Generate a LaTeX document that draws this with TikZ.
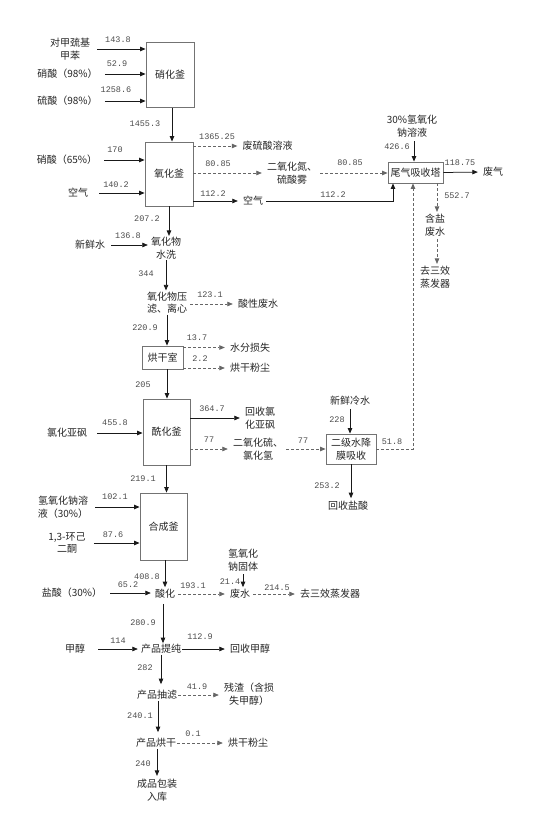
\documentclass[tikz,border=0pt]{standalone}
\usepackage{fontspec}
\newfontfamily\cjk{Noto Sans CJK SC}
\newfontfamily\numf{Liberation Mono}
\usetikzlibrary{arrows.meta,calc}
\begin{document}
\begin{tikzpicture}[x=1pt,y=-1pt,
 box/.style={draw=black!55, line width=0.9pt, fill=white, inner sep=0pt, align=center, font=\cjk\fontsize{10}{12.5}\selectfont, text=black!85},
 txt/.style={font=\cjk\fontsize{10}{12.5}\selectfont, align=center, inner sep=1pt, text=black!85},
 num/.style={font=\numf\fontsize{8.5}{10}\selectfont, inner sep=0pt, text=black!70},
 arr/.style={draw=black!90, line width=0.75pt, -{Triangle[length=5.5pt,width=4.5pt]}},
 darr/.style={arr, draw=black!60, dash pattern=on 3pt off 2pt}]
\useasboundingbox[fill=white] (0,0) rectangle (533,813);

% ---------- boxes ----------
\node[box, minimum width=48pt, minimum height=64.6pt] (nitro) at (170,75) {硝化釜};
\node[box, minimum width=48pt, minimum height=64pt] (oxid) at (169,174) {氧化釜};
\node[box, minimum width=55pt, minimum height=21pt] (tail) at (415.5,172.5) {尾气吸收塔};
\node[box, minimum width=41pt, minimum height=23pt] (dry) at (162.5,357.5) {烘干室};
\node[box, minimum width=47pt, minimum height=66pt] (acyl) at (166.5,432) {酰化釜};
\node[box, minimum width=50pt, minimum height=30pt] (film) at (351,449) {二级水降\\膜吸收};
\node[box, minimum width=47pt, minimum height=67pt] (synth) at (163.5,526.5) {合成釜};

% ---------- texts ----------
\node[txt] (tin1) at (70,49) {对甲巯基\\甲苯};
\node[txt] (tin2) at (67.5,74) {硝酸（98\%）};
\node[txt] (tin3) at (67.5,101) {硫酸（98\%）};
\node[txt] (tin4) at (67,160) {硝酸（65\%）};
\node[txt] (tin5) at (78,193) {空气};
\node[txt] (owaste) at (267.5,146) {废硫酸溶液};
\node[txt] (ono2) at (292,173) {二氧化氮、\\硫酸雾};
\node[txt] (oair) at (253,201) {空气};
\node[txt] (naoh) at (412,126) {30\%氢氧化\\钠溶液};
\node[txt] (exh) at (493,172) {废气};
\node[txt] (salt) at (435,225) {含盐\\废水};
\node[txt] (evapa) at (435,277) {去三效\\蒸发器};
\node[txt] (wash) at (166,248) {氧化物\\水洗};
\node[txt] (water) at (90,245) {新鲜水};
\node[txt] (filter) at (167,302.5) {氧化物压\\滤、离心};
\node[txt] (acidw) at (258,304) {酸性废水};
\node[txt] (loss) at (250,347.5) {水分损失};
\node[txt] (dusta) at (250,368) {烘干粉尘};
\node[txt] (socl) at (67,433) {氯化亚砜};
\node[txt] (rsocl) at (260,418) {回收氯\\化亚砜};
\node[txt] (so2) at (258,449) {二氧化硫、\\氯化氢};
\node[txt] (cold) at (350,401) {新鲜冷水};
\node[txt] (hcl) at (348,506) {回收盐酸};
\node[txt] (naohs) at (63,507) {氢氧化钠溶\\液（30\%）};
\node[txt] (chd) at (67,543) {1,3-环己\\二酮};
\node[txt] (hclin) at (72,593) {盐酸（30\%）};
\node[txt] (acid) at (165,594) {酸化};
\node[txt] (naohsol) at (243,560) {氢氧化\\钠固体};
\node[txt] (ww) at (240,594) {废水};
\node[txt] (evapb) at (330,594) {去三效蒸发器};
\node[txt] (meoh) at (75,649) {甲醇};
\node[txt] (purify) at (161,649) {产品提纯};
\node[txt] (rmeoh) at (250,649) {回收甲醇};
\node[txt] (filtb) at (157,695) {产品抽滤};
\node[txt] (resid) at (249,694) {残渣（含损\\失甲醇）};
\node[txt] (dryb) at (156,743) {产品烘干};
\node[txt] (dustb) at (248,743) {烘干粉尘};
\node[txt] (final) at (157,790) {成品包装\\入库};

% ---------- input arrows ----------
\draw[arr] ([xshift=6pt]tin1.east) -- (tin1.east -| nitro.west);
\draw[arr] ([xshift=6pt]tin2.east) -- (tin2.east -| nitro.west);
\draw[arr] ([xshift=6pt]tin3.east) -- (tin3.east -| nitro.west);
\draw[arr] ([xshift=6pt]tin4.east) -- (tin4.east -| oxid.west);
\draw[arr] ([xshift=10pt]tin5.east) -- (tin5.east -| oxid.west);
\draw[arr] ([xshift=5pt]water.east) -- ([xshift=-2pt]water.east -| wash.west);
\draw[arr] ([xshift=9pt]socl.east) -- (socl.east -| acyl.west);
\draw[arr] ([xshift=6pt]naohs.east) -- (naohs.east -| synth.west);
\draw[arr] ([xshift=7pt]chd.east) -- (chd.east -| synth.west);
\draw[arr] ([xshift=7pt]hclin.east) -- ([xshift=-3pt]hclin.east -| acid.west);
\draw[arr] ([xshift=12pt]meoh.east) -- ([xshift=-2pt]meoh.east -| purify.west);

% ---------- main vertical flow ----------
\draw[arr] ([xshift=2pt]nitro.south) -- ([xshift=2pt]nitro.south |- oxid.north);
\draw[arr] (oxid.south) -- (oxid.south |- wash.north);
\draw[arr] (wash.south) -- (wash.south |- filter.north);
\draw[arr] (filter.south) -- (filter.south |- dry.north);
\draw[arr] ([xshift=4.5pt]dry.south) -- ([xshift=4.5pt]dry.south |- acyl.north);
\draw[arr] (acyl.south) -- (acyl.south |- synth.north);
\draw[arr] (synth.south -| acid) -- ([yshift=1pt]acid.north);
\draw[arr, shorten <=4pt] ([xshift=-2pt]acid.south) -- ([xshift=-2pt]acid.south |- purify.north);
\draw[arr, shorten >=5pt] (purify.south) -- (purify.south |- filtb.north);
\draw[arr, shorten >=5pt] ([xshift=1pt]filtb.south) -- ([xshift=1pt]filtb.south |- dryb.north);
\draw[arr, shorten >=2pt] ([xshift=1pt]dryb.south) -- ([xshift=1pt]dryb.south |- final.north);

% ---------- oxidation outputs ----------
\draw[darr, shorten >=4pt] (oxid.east |- owaste) -- (owaste.west);
\draw[darr, shorten >=4pt] (oxid.east |- ono2) -- (ono2.west);
\draw[arr, shorten >=4pt] (oxid.east |- oair) -- (oair.west);
\draw[darr, shorten <=2pt] (ono2.east) -- (ono2.east -| tail.west);
\draw[arr, shorten <=2pt] (oair.east) -| ([xshift=-22.5pt]tail.south);
\draw[arr, shorten <=3pt] ([xshift=2pt]naoh.south) -- ([xshift=2pt]naoh.south |- tail.north);
\draw[arr, shorten >=4pt] (tail.east) -- (exh.west);
\draw[darr, shorten >=1pt] ([xshift=21.5pt]tail.south) -- ([xshift=21.5pt]tail.south |- salt.north);
\draw[darr, shorten <=2pt, shorten >=1pt] ([xshift=2pt]salt.south) -- ([xshift=2pt]salt.south |- evapa.north);
\draw[darr] (film.east) -| ([xshift=-2.5pt]tail.south);

% ---------- side outputs ----------
\draw[darr, shorten <=2pt, shorten >=4pt] (filter.east |- acidw) -- (acidw.west);
\draw[darr, shorten >=4pt] (dry.east |- loss) -- (loss.west);
\draw[darr, shorten >=4pt] (dry.east |- dusta) -- (dusta.west);
\draw[arr, shorten >=4pt] (acyl.east |- rsocl) -- (rsocl.west);
\draw[darr, shorten >=4pt] (acyl.east |- so2) -- (so2.west);
\draw[darr, shorten <=2pt] (so2.east) -- (so2.east -| film.west);
\draw[arr, shorten <=2pt] (cold.south) -- (cold.south |- film.north);
\draw[arr, shorten >=2pt] (film.south) -- (film.south |- hcl.north);
\draw[darr, shorten <=2pt, shorten >=4pt] (acid.east) -- (acid.east -| ww.west);
\draw[arr, shorten <=2pt, shorten >=1pt] (naohsol.south) -- (naohsol.south |- ww.north);
\draw[darr, shorten <=2pt, shorten >=4pt] (ww.east) -- (evapb.west);
\draw[arr, shorten >=4pt] (purify.east) -- (purify.east -| rmeoh.west);
\draw[darr, shorten >=4pt] (filtb.east) -- (filtb.east -| resid.west);
\draw[darr, shorten >=4pt] (dryb.east) -- (dryb.east -| dustb.west);

% ---------- numbers ----------
\node[num] (n1) at (118,40) {143.8};
\node[num] (n2) at (117,64) {52.9};
\node[num] (n3) at (116,90) {1258.6};
\node[num] (n4) at (145,124) {1455.3};
\node[num] (n5) at (115,150) {170};
\node[num] (n6) at (116,185) {140.2};
\node[num] (n7) at (217,137) {1365.25};
\node[num] (n8) at (218,164) {80.85};
\node[num] (n9) at (213,194) {112.2};
\node[num] (n10) at (350,163) {80.85};
\node[num] (n11) at (333,195) {112.2};
\node[num] (n12) at (397,147) {426.6};
\node[num] (n13) at (460,163) {118.75};
\node[num] (n14) at (457,196) {552.7};
\node[num] (n15) at (147,219) {207.2};
\node[num] (n16) at (128,236) {136.8};
\node[num] (n17) at (146,274) {344};
\node[num] (n18) at (210,295) {123.1};
\node[num] (n19) at (145,328) {220.9};
\node[num] (n20) at (197,338) {13.7};
\node[num] (n21) at (200,359) {2.2};
\node[num] (n22) at (143,385) {205};
\node[num] (n23) at (115,423) {455.8};
\node[num] (n24) at (212,409) {364.7};
\node[num] (n25) at (209,440) {77};
\node[num] (n26) at (303,441) {77};
\node[num] (n27) at (337,420) {228};
\node[num] (n28) at (392,442) {51.8};
\node[num] (n29) at (327,486) {253.2};
\node[num] (n30) at (143,479) {219.1};
\node[num] (n31) at (115,497) {102.1};
\node[num] (n32) at (113,535) {87.6};
\node[num] (n33) at (147,577) {408.8};
\node[num] (n34) at (128,585) {65.2};
\node[num] (n35) at (193,586) {193.1};
\node[num] (n36) at (230,582) {21.4};
\node[num] (n37) at (277,588) {214.5};
\node[num] (n38) at (143,623) {280.9};
\node[num] (n39) at (118,641) {114};
\node[num] (n40) at (200,637) {112.9};
\node[num] (n41) at (145,668) {282};
\node[num] (n42) at (197,687) {41.9};
\node[num] (n43) at (140,716) {240.1};
\node[num] (n44) at (193,734) {0.1};
\node[num] (n45) at (143,764) {240};
\end{tikzpicture}
\end{document}
